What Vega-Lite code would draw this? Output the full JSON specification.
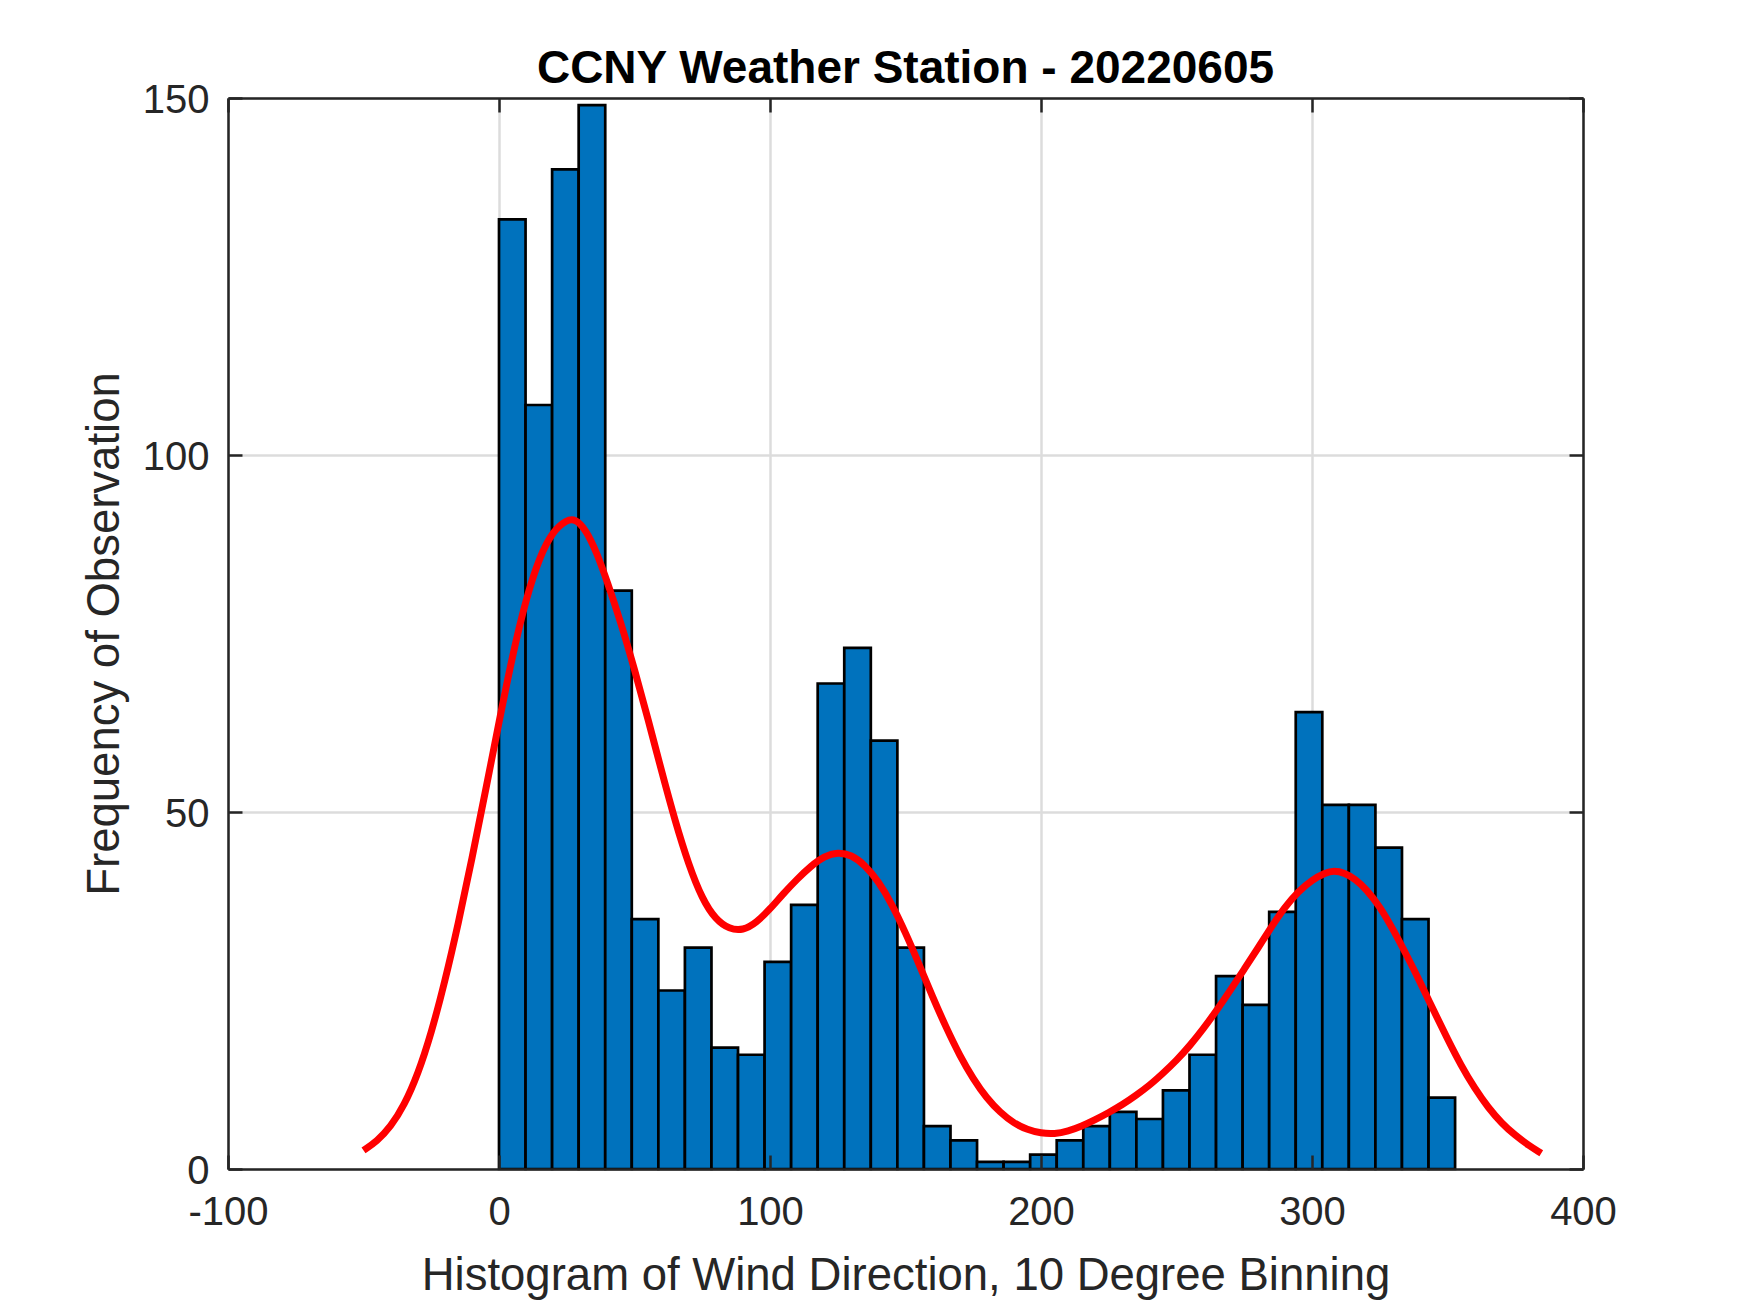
{
  "$schema": "https://vega.github.io/schema/vega-lite/v6.json",
  "width": 1355,
  "height": 1071,
  "autosize": {"type": "none"},
  "padding": {"left": 228, "top": 98, "right": 167, "bottom": 144},
  "background": "white",
  "config": {"view": {"stroke": null}, "font": "Liberation Sans"},
  "title": {
    "text": "CCNY Weather Station - 20220605",
    "fontSize": 46,
    "fontWeight": "bold",
    "font": "Liberation Sans",
    "color": "#000000",
    "anchor": "middle",
    "baseline": "alphabetic",
    "offset": 12,
    "dy": 61,
    "frame": "group"
  },
  "datasets": {
    "bins": [
      {"lo": 0, "hi": 9.8, "count": 133},
      {"lo": 9.8, "hi": 19.6, "count": 107},
      {"lo": 19.6, "hi": 29.4, "count": 140},
      {"lo": 29.4, "hi": 39.2, "count": 149},
      {"lo": 39.2, "hi": 49, "count": 81},
      {"lo": 49, "hi": 58.8, "count": 35},
      {"lo": 58.8, "hi": 68.6, "count": 25},
      {"lo": 68.6, "hi": 78.4, "count": 31},
      {"lo": 78.4, "hi": 88.2, "count": 17},
      {"lo": 88.2, "hi": 98, "count": 16},
      {"lo": 98, "hi": 107.8, "count": 29},
      {"lo": 107.8, "hi": 117.6, "count": 37},
      {"lo": 117.6, "hi": 127.4, "count": 68},
      {"lo": 127.4, "hi": 137.2, "count": 73},
      {"lo": 137.2, "hi": 147, "count": 60},
      {"lo": 147, "hi": 156.8, "count": 31},
      {"lo": 156.8, "hi": 166.6, "count": 6},
      {"lo": 166.6, "hi": 176.4, "count": 4},
      {"lo": 176.4, "hi": 186.2, "count": 1},
      {"lo": 186.2, "hi": 196, "count": 1},
      {"lo": 196, "hi": 205.8, "count": 2},
      {"lo": 205.8, "hi": 215.6, "count": 4},
      {"lo": 215.6, "hi": 225.4, "count": 6},
      {"lo": 225.4, "hi": 235.2, "count": 8},
      {"lo": 235.2, "hi": 245, "count": 7},
      {"lo": 245, "hi": 254.8, "count": 11},
      {"lo": 254.8, "hi": 264.6, "count": 16},
      {"lo": 264.6, "hi": 274.4, "count": 27},
      {"lo": 274.4, "hi": 284.2, "count": 23},
      {"lo": 284.2, "hi": 294, "count": 36},
      {"lo": 294, "hi": 303.8, "count": 64},
      {"lo": 303.8, "hi": 313.6, "count": 51},
      {"lo": 313.6, "hi": 323.4, "count": 51},
      {"lo": 323.4, "hi": 333.2, "count": 45},
      {"lo": 333.2, "hi": 343, "count": 35},
      {"lo": 343, "hi": 352.8, "count": 10}
    ],
    "fit": [
      {"x": -50, "v": 2.6}, {"x": -45, "v": 3.9}, {"x": -40, "v": 5.9}, {"x": -35, "v": 8.9},
      {"x": -30, "v": 13.2}, {"x": -25, "v": 19.0}, {"x": -20, "v": 26.2}, {"x": -15, "v": 34.4},
      {"x": -10, "v": 43.4}, {"x": -5, "v": 52.9}, {"x": 0, "v": 62.6}, {"x": 5, "v": 72.0},
      {"x": 10, "v": 79.9}, {"x": 15, "v": 85.8}, {"x": 20, "v": 89.4}, {"x": 25, "v": 90.9},
      {"x": 28, "v": 91.1}, {"x": 32, "v": 89.6}, {"x": 36, "v": 86.4}, {"x": 40, "v": 82.2},
      {"x": 45, "v": 76.5}, {"x": 50, "v": 70}, {"x": 55, "v": 63}, {"x": 60, "v": 55.7},
      {"x": 65, "v": 48.7}, {"x": 70, "v": 42.6}, {"x": 75, "v": 37.8}, {"x": 80, "v": 34.9},
      {"x": 85, "v": 33.6}, {"x": 90, "v": 33.4}, {"x": 95, "v": 34.5}, {"x": 100, "v": 36.4},
      {"x": 105, "v": 38.6}, {"x": 110, "v": 40.6}, {"x": 115, "v": 42.4}, {"x": 120, "v": 43.8},
      {"x": 125, "v": 44.4}, {"x": 130, "v": 44.0}, {"x": 135, "v": 42.6}, {"x": 140, "v": 40.3},
      {"x": 145, "v": 37.1}, {"x": 150, "v": 33.1}, {"x": 155, "v": 28.7}, {"x": 160, "v": 24.1},
      {"x": 165, "v": 19.8}, {"x": 170, "v": 15.9}, {"x": 175, "v": 12.6}, {"x": 180, "v": 9.9},
      {"x": 185, "v": 7.9}, {"x": 190, "v": 6.4}, {"x": 195, "v": 5.5}, {"x": 200, "v": 5.0},
      {"x": 205, "v": 4.9}, {"x": 210, "v": 5.3}, {"x": 215, "v": 6.0}, {"x": 220, "v": 6.9},
      {"x": 225, "v": 7.9}, {"x": 230, "v": 9}, {"x": 235, "v": 10.3}, {"x": 240, "v": 11.7},
      {"x": 245, "v": 13.4}, {"x": 250, "v": 15.2}, {"x": 255, "v": 17.3}, {"x": 260, "v": 19.7},
      {"x": 265, "v": 22.3}, {"x": 270, "v": 25.1}, {"x": 275, "v": 28}, {"x": 280, "v": 30.9},
      {"x": 285, "v": 33.9}, {"x": 290, "v": 36.7}, {"x": 295, "v": 38.9}, {"x": 300, "v": 40.5},
      {"x": 305, "v": 41.5}, {"x": 308, "v": 41.8}, {"x": 312, "v": 41.5}, {"x": 316, "v": 40.6},
      {"x": 320, "v": 39.2}, {"x": 325, "v": 36.8}, {"x": 330, "v": 33.5}, {"x": 335, "v": 29.9},
      {"x": 340, "v": 26.1}, {"x": 345, "v": 22.1}, {"x": 350, "v": 18.2}, {"x": 355, "v": 14.5},
      {"x": 360, "v": 11.3}, {"x": 365, "v": 8.6}, {"x": 370, "v": 6.4}, {"x": 375, "v": 4.7},
      {"x": 380, "v": 3.3}, {"x": 384.6, "v": 2.2}
    ]
  },
  "resolve": {"axis": {"x": "independent", "y": "independent"}},
  "layer": [
    {
      "data": {"name": "bins"},
      "mark": {"type": "bar", "fill": "#0072BD", "stroke": "#000000", "strokeWidth": 2.7},
      "encoding": {
        "x": {
          "field": "lo",
          "type": "quantitative",
          "scale": {"domain": [-100, 400], "nice": false, "zero": false},
          "axis": {
            "orient": "bottom",
            "values": [-100, 0, 100, 200, 300, 400],
            "labelExpr": "'' + datum.value",
            "grid": true,
            "gridColor": "#dcdcdc",
            "gridWidth": 2.5,
            "ticks": false,
            "domain": false,
            "labelFont": "Liberation Sans",
            "labelFontSize": 40,
            "labelColor": "#262626",
            "labelPadding": 55,
            "labelBaseline": "alphabetic",
            "labelFlush": false,
            "labelOverlap": false,
            "labelBound": false,
            "title": "Histogram of Wind Direction, 10 Degree Binning",
            "titleFont": "Liberation Sans",
            "titleFontSize": 45.5,
            "titleFontWeight": "normal",
            "titleColor": "#262626",
            "titleX": 677.5,
            "titleY": 120,
            "titleAlign": "center",
            "titleBaseline": "alphabetic",
            "zindex": 0
          }
        },
        "x2": {"field": "hi"},
        "y": {
          "field": "count",
          "type": "quantitative",
          "scale": {"domain": [0, 150], "nice": false, "zero": true},
          "axis": {
            "orient": "left",
            "values": [0, 50, 100, 150],
            "grid": true,
            "gridColor": "#dcdcdc",
            "gridWidth": 2.5,
            "ticks": false,
            "domain": false,
            "labelFont": "Liberation Sans",
            "labelFontSize": 40,
            "labelColor": "#262626",
            "labelPadding": 19,
            "labelOffset": 2,
            "labelFlush": false,
            "labelOverlap": false,
            "labelBound": false,
            "title": "Frequency of Observation",
            "titleFont": "Liberation Sans",
            "titleFontSize": 45.5,
            "titleFontWeight": "normal",
            "titleColor": "#262626",
            "titleAngle": -90,
            "titleX": -110,
            "titleY": 535.5,
            "titleAlign": "center",
            "titleBaseline": "alphabetic",
            "zindex": 0
          }
        },
        "y2": {"datum": 0}
      }
    },
    {
      "data": {"name": "fit"},
      "mark": {"type": "line", "color": "#FF0000", "strokeWidth": 7, "interpolate": "basis"},
      "encoding": {
        "x": {
          "field": "x",
          "type": "quantitative",
          "axis": {
            "orient": "bottom",
            "values": [-100, 0, 100, 200, 300, 400],
            "grid": false,
            "labels": false,
            "ticks": true,
            "tickSize": -14,
            "tickWidth": 2.5,
            "tickColor": "#262626",
            "domain": true,
            "domainColor": "#262626",
            "domainWidth": 2.5,
            "title": null,
            "zindex": 1
          }
        },
        "y": {
          "field": "v",
          "type": "quantitative",
          "axis": {
            "orient": "left",
            "values": [0, 50, 100, 150],
            "grid": false,
            "labels": false,
            "ticks": true,
            "tickSize": -14,
            "tickWidth": 2.5,
            "tickColor": "#262626",
            "domain": true,
            "domainColor": "#262626",
            "domainWidth": 2.5,
            "title": null,
            "zindex": 1
          }
        }
      }
    },
    {
      "data": {"name": "fit"},
      "mark": {"type": "line", "opacity": 0, "strokeWidth": 1},
      "encoding": {
        "x": {
          "field": "x",
          "type": "quantitative",
          "axis": {
            "orient": "top",
            "values": [-100, 0, 100, 200, 300, 400],
            "grid": false,
            "labels": false,
            "ticks": true,
            "tickSize": -14,
            "tickWidth": 2.5,
            "tickColor": "#262626",
            "domain": true,
            "domainColor": "#262626",
            "domainWidth": 2.5,
            "title": null,
            "zindex": 1
          }
        },
        "y": {
          "field": "v",
          "type": "quantitative",
          "axis": {
            "orient": "right",
            "values": [0, 50, 100, 150],
            "grid": false,
            "labels": false,
            "ticks": true,
            "tickSize": -14,
            "tickWidth": 2.5,
            "tickColor": "#262626",
            "domain": true,
            "domainColor": "#262626",
            "domainWidth": 2.5,
            "title": null,
            "zindex": 1
          }
        }
      }
    }
  ]
}
